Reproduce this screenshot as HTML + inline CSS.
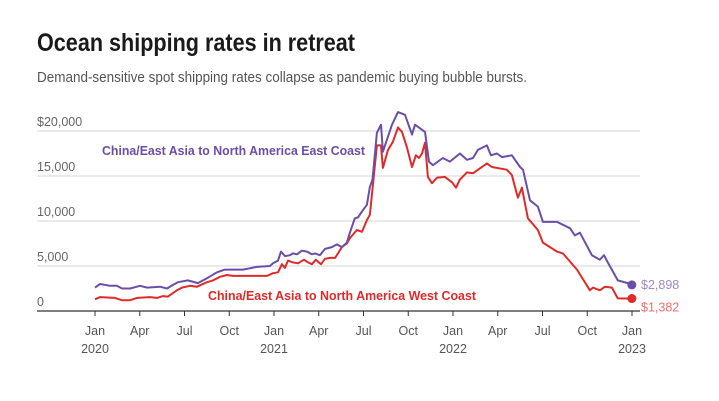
<!DOCTYPE html>
<html><head><meta charset="utf-8"><style>
html,body{margin:0;padding:0;background:#fff;}
svg{display:block;font-family:"Liberation Sans",sans-serif;}
</style></head><body>
<svg id="chart" width="719" height="401" viewBox="0 0 719 401">
<text x="37" y="51" font-size="25" font-weight="bold" fill="#1a1a1a" textLength="318" lengthAdjust="spacingAndGlyphs">Ocean shipping rates in retreat</text>
<text x="37" y="82" font-size="15" fill="#555" textLength="490" lengthAdjust="spacingAndGlyphs">Demand-sensitive spot shipping rates collapse as pandemic buying bubble bursts.</text>
<g id="grid"></g><g id="xaxis"></g><g id="series"></g>
<text x="102" y="155" font-size="13" font-weight="bold" fill="#6a4fa8" textLength="263" lengthAdjust="spacingAndGlyphs">China/East Asia to North America East Coast</text>
<text x="208" y="300" font-size="13" font-weight="bold" fill="#e02a2a" textLength="268" lengthAdjust="spacingAndGlyphs">China/East Asia to North America West Coast</text>
</svg>
<script>
const yTicks=[0,5000,10000,15000,20000];
const yTickLabels=["0","5,000","10,000","15,000","$20,000"];
const xTickMonths=[0,3,6,9,12,15,18,21,24,27,30,33,36];
const xTickLabels=["Jan","Apr","Jul","Oct","Jan","Apr","Jul","Oct","Jan","Apr","Jul","Oct","Jan"];
const yearLabels=["2020","2021","2022","2023"];
const eastMonths=[0,0.34,1.0,1.47,1.81,2.35,3.02,3.49,4.36,4.83,5.23,5.56,6.23,6.9,7.57,8.18,8.71,9.92,10.86,11.73,11.93,12.27,12.47,12.73,13.07,13.27,13.54,13.87,14.21,14.54,14.75,15.08,15.42,15.88,16.22,16.55,16.89,17.09,17.42,17.63,17.96,18.23,18.43,18.6,18.9,19.17,19.3,19.91,20.31,20.78,21.25,21.45,22.12,22.39,22.65,23.32,23.79,24.46,24.93,25.34,25.67,26.27,26.54,26.94,27.28,27.95,28.49,28.69,29.16,29.69,30.03,30.97,31.84,32.17,32.51,33.31,33.85,34.12,34.38,35.05,35.72,35.99];
const eastValues=[2600,3000,2800,2800,2500,2500,2800,2600,2700,2500,2900,3200,3400,3100,3700,4300,4600,4600,4900,5000,5300,5600,6600,6100,6200,6400,6300,6700,6600,6300,6400,6200,6900,7100,7400,7100,7600,8700,10300,10400,11200,11800,13800,14600,19800,20700,17700,20700,22100,21800,19600,20700,19900,16600,16200,17000,16600,17500,16800,17000,17900,18400,17300,17500,17100,17300,16000,15700,12300,11600,9900,9900,9200,8400,8700,6200,5700,6200,5400,3400,3100,2898];
const westMonths=[0,0.34,1.34,1.81,2.35,2.82,3.69,4.16,4.56,4.89,5.5,5.83,6.37,6.84,7.51,7.91,8.38,8.85,9.25,11.53,11.93,12.27,12.53,12.73,12.94,13.27,13.61,14.01,14.28,14.54,14.81,15.15,15.42,15.75,16.09,16.29,16.55,16.89,17.09,17.56,17.9,18.23,18.43,18.9,19.17,19.3,19.64,19.97,20.31,20.58,20.91,21.25,21.51,21.72,21.92,22.12,22.32,22.59,22.92,23.46,23.93,24.2,24.46,24.93,25.34,26.27,26.61,27.61,27.95,28.15,28.35,28.62,29.02,29.69,30.03,30.97,31.37,32.31,33.18,33.38,33.85,34.18,34.65,35.05,35.99];
const westValues=[1300,1550,1450,1200,1200,1450,1550,1450,1650,1600,2300,2600,2800,2700,3200,3400,3800,4000,3900,3900,4200,4300,5200,4800,5600,5400,5300,5700,5400,5200,5700,5200,5800,5900,5900,6400,7100,7500,8100,9000,8800,10100,10700,18400,18400,15900,17900,18800,20400,19900,18200,16000,17300,17000,17500,18700,14900,14200,14800,14900,14300,13700,14600,15400,15300,16400,16000,15700,15100,13800,12600,13700,10300,9000,7600,6600,6400,4600,2300,2600,2300,2700,2600,1400,1382];
const endLabels=["$2,898","$1,382"];

const NS="http://www.w3.org/2000/svg";
const x0=95,x1=632,yBase=311,yTop=131;
const xs=m=>x0+(x1-x0)*m/36;
const ys=v=>yBase-(yBase-yTop)*v/20000;
function mk(tag,attrs,parent,text){const e=document.createElementNS(NS,tag);for(const k in attrs)e.setAttribute(k,attrs[k]);if(text!==undefined)e.textContent=text;parent.appendChild(e);return e;}
const grid=document.getElementById('grid');
yTicks.forEach((t,i)=>{
  if(t>0){const l=mk('line',{x1:37,x2:640,y1:ys(t),y2:ys(t),stroke:'#d4d4d4','stroke-width':1},grid);
  
  }
  const tx=mk('text',{x:37,y:ys(t)-5,'font-size':12.5,fill:'#666'},grid,yTickLabels[i]);
  
  
});
const xa=document.getElementById('xaxis');
const ax=mk('line',{x1:37,x2:640,y1:yBase,y2:yBase,stroke:'#333','stroke-width':1.2},xa);


xTickMonths.forEach((m,i)=>{
  const tk=mk('line',{x1:xs(m),x2:xs(m),y1:yBase,y2:yBase+5,stroke:'#333','stroke-width':1},xa);
  
  
  const tl=mk('text',{x:xs(m),y:335,'font-size':12.5,fill:'#555','text-anchor':'middle'},xa,xTickLabels[i]);
  
  
  if(m%12===0){const yl=mk('text',{x:xs(m),y:353,'font-size':12.5,fill:'#555','text-anchor':'middle'},xa,yearLabels[m/12]);
  
  }
});
const sg=document.getElementById('series');
function line(ms,vs,color,name){
  const n=Math.min(ms.length,vs.length);
  let d='';
  for(let i=0;i<n;i++)d+=(i?'L':'M')+xs(ms[i]).toFixed(1)+','+ys(vs[i]).toFixed(1);
  const p=mk('path',{d:d,fill:'none',stroke:color,'stroke-width':2,'stroke-linejoin':'round'},sg);
  
  
}
line(westMonths,westValues,'#e02a2a','west-coast-line');
line(eastMonths,eastValues,'#6a4fa8','east-coast-line');
const eLast=Math.min(eastMonths.length,eastValues.length)-1,wLast=Math.min(westMonths.length,westValues.length)-1;
const d1=mk('circle',{cx:xs(eastMonths[eLast]),cy:ys(eastValues[eLast]),r:4.5,fill:'#6a4fa8'},sg);


const d2=mk('circle',{cx:xs(westMonths[wLast]),cy:ys(westValues[wLast]),r:4.5,fill:'#e02a2a'},sg);


const t1=mk('text',{x:641,y:ys(eastValues[eLast])+4,'font-size':12.5,fill:'#9c88cc'},sg,endLabels[0]);


const t2=mk('text',{x:641,y:ys(westValues[wLast])+13,'font-size':12.5,fill:'#f07070'},sg,endLabels[1]);


</script>
</body></html>
